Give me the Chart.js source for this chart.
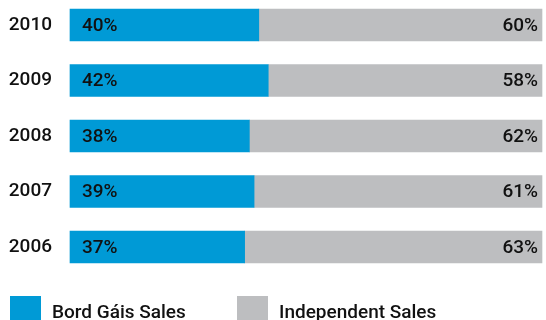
<!DOCTYPE html>
<html>
<head>
<meta charset="utf-8">
<script src="https://cdn.jsdelivr.net/npm/chart.js@4/dist/chart.umd.min.js"></script>
<style>
  html, body { margin: 0; padding: 0; background: #ffffff; }
  #wrap { width: 546px; height: 320px; }
</style>
</head>
<body>
<div id="wrap"><canvas id="c" width="546" height="320"></canvas></div>
<script>
// Share of sales by year (percent)
const years = ['2010', '2009', '2008', '2007', '2006'];
const bordGaisSales = [40, 42, 38, 39, 37];
const independentSales = [60, 58, 62, 61, 63];
const seriesNames = ['Bord Gáis Sales', 'Independent Sales'];
const seriesColors = ['#009ad6', '#bdbec0'];

const FONT = 'Roboto, "DejaVu Sans", sans-serif';
const TEXT = '#111111';

// Percent labels written inside each bar segment
const barLabels = {
  id: 'barLabels',
  afterDatasetsDraw(chart) {
    const ctx = chart.ctx;
    ctx.save();
    ctx.font = '500 19px ' + FONT;
    ctx.fillStyle = TEXT;
    ctx.textBaseline = 'middle';
    chart.data.datasets.forEach((ds, di) => {
      const meta = chart.getDatasetMeta(di);
      meta.data.forEach((bar, i) => {
        const txt = ds.data[i] + '%';
        const left = Math.min(bar.x, bar.base);
        const right = Math.max(bar.x, bar.base);
        if (di === 0) {
          ctx.textAlign = 'left';
          ctx.fillText(txt, left + 12, bar.y + 1);
        } else {
          ctx.textAlign = 'right';
          ctx.fillText(txt, right - 4, bar.y + 1);
        }
      });
    });
    ctx.restore();
  }
};

// Legend row along the bottom edge
const bottomLegend = {
  id: 'bottomLegend',
  afterDraw(chart) {
    const ctx = chart.ctx;
    ctx.save();
    ctx.font = '500 19px ' + FONT;
    ctx.textBaseline = 'middle';
    ctx.textAlign = 'left';
    chart.data.datasets.forEach((ds, i) => {
      const x = 10 + i * 227;
      const y = 296;
      ctx.fillStyle = ds.backgroundColor;
      ctx.fillRect(x, y, 31, 30);
      ctx.fillStyle = TEXT;
      ctx.fillText(ds.label, x + 42, y + 17);
    });
    ctx.restore();
  }
};

new Chart(document.getElementById('c'), {
  type: 'bar',
  data: {
    labels: years,
    datasets: [
      { label: seriesNames[0], data: bordGaisSales, backgroundColor: seriesColors[0], barThickness: 32, clip: false },
      { label: seriesNames[1], data: independentSales, backgroundColor: seriesColors[1], barThickness: 32, clip: false }
    ]
  },
  options: {
    indexAxis: 'y',
    responsive: false,
    animation: false,
    layout: { padding: { top: 25, bottom: 73, left: 0, right: 4 } },
    plugins: {
      legend: { display: false },
      tooltip: { enabled: false }
    },
    scales: {
      x: {
        stacked: true,
        min: 0,
        max: 100,
        display: false
      },
      y: {
        stacked: true,
        offset: false,
        grid: { display: false, drawTicks: false },
        border: { display: false },
        ticks: {
          padding: 18,
          color: TEXT,
          font: { family: FONT, size: 19, weight: '500' }
        },
        afterFit(scale) {
          scale.width = 70;
          scale.paddingTop = 0;
          scale.paddingBottom = 0;
        }
      }
    }
  },
  plugins: [barLabels, bottomLegend]
});
</script>
</body>
</html>
